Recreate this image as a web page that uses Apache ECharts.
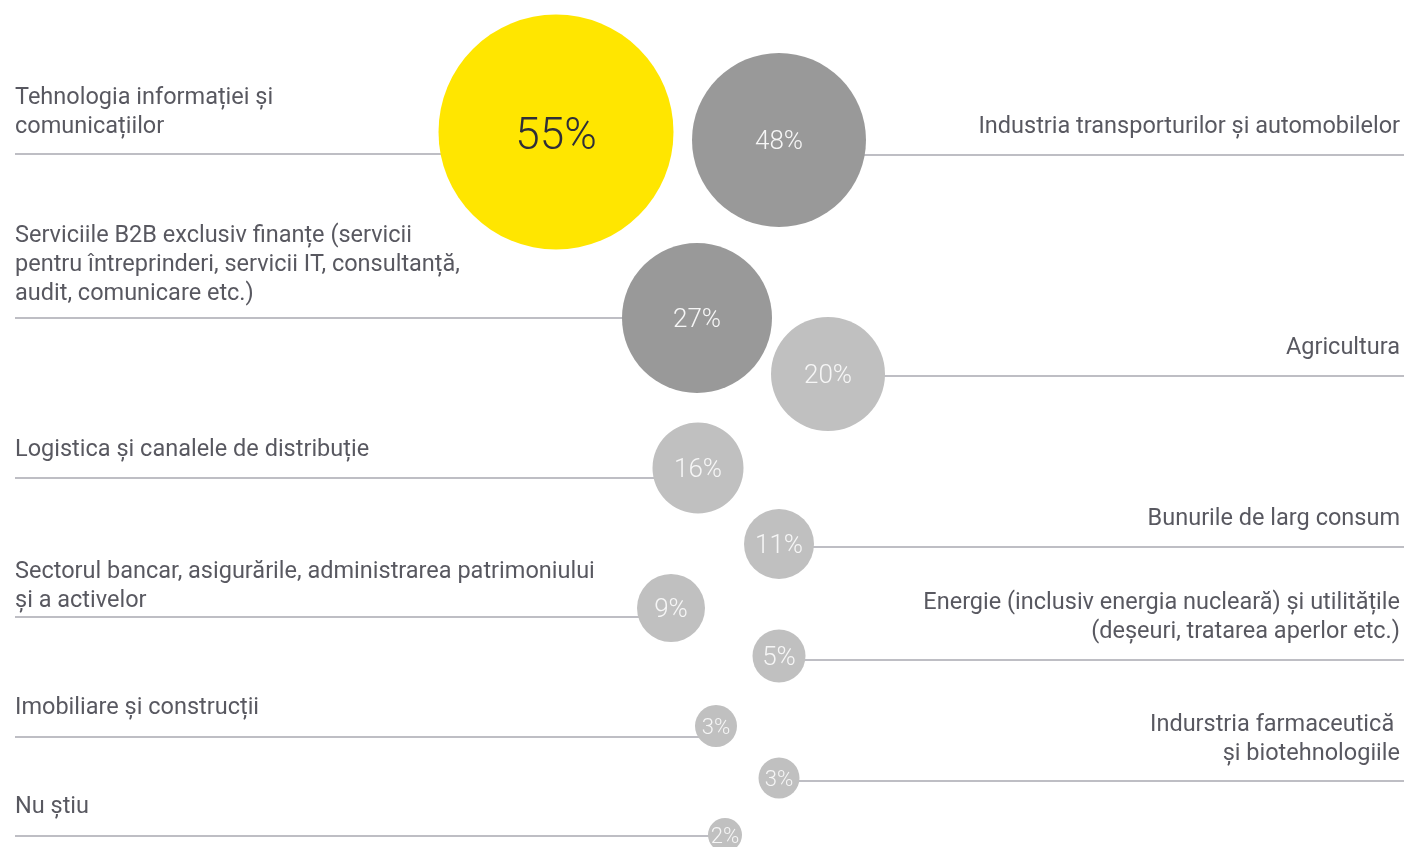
<!DOCTYPE html>
<html>
<head>
<meta charset="utf-8">
<script src="https://cdn.jsdelivr.net/npm/echarts@6/dist/echarts.min.js"></script>
<style>
  html, body { margin: 0; padding: 0; background: #ffffff; }
  #chart { width: 1404px; height: 847px; }
</style>
</head>
<body>
<div id="chart"></div>
<script>
// Sectors, top to bottom, with the share of respondents naming each one
const categories = [
  'Tehnologia informației și\ncomunicațiilor',
  'Industria transporturilor și automobilelor',
  'Serviciile B2B exclusiv finanțe (servicii\npentru întreprinderi, servicii IT, consultanță,\naudit, comunicare etc.)',
  'Agricultura',
  'Logistica și canalele de distribuție',
  'Bunurile de larg consum',
  'Sectorul bancar, asigurările, administrarea patrimoniului\nși a activelor',
  'Energie (inclusiv energia nucleară) și utilitățile\n(deșeuri, tratarea aperlor etc.)',
  'Imobiliare și construcții',
  'Indurstria farmaceutică \nși biotehnologiile',
  'Nu știu'
];
const shares = [55, 48, 27, 20, 16, 11, 9, 5, 3, 3, 2];
const sides = ['left', 'right', 'left', 'right', 'left', 'right', 'left', 'right', 'left', 'right', 'left'];

// Layout of the bubble column (axis units equal the canvas pixels)
const layout = {
  centerX:  [556, 779, 697, 828, 698, 779, 671, 779, 716, 779, 725],
  centerY:  [132, 140, 318, 374, 468, 544, 608, 656, 726, 778, 835],
  ruleY:    [154, 155, 318, 376, 478, 547, 617, 660, 737, 781, 836],
  diameter: [235, 174, 150, 114, 91, 70, 68, 53, 42, 41, 34],
  labelLift:[27, 28, 24, 28, 28, 28, 16, 28, 29, 27, 29],
  ruleStart: 15,
  ruleEnd: 1404,
  textLeft: 15,
  textRight: 1400
};

const TEXT = '#2e2e38';
const RULE = '#a9a9b1';
const FONT = 'Roboto';

function bubbleColor(v) {
  if (v >= 50) return '#ffe600';
  if (v >= 25) return '#999999';
  return '#c0c0c0';
}

const bubbles = shares.map((v, i) => ({
  value: [layout.centerX[i], layout.centerY[i], v],
  symbolSize: layout.diameter[i],
  itemStyle: { color: bubbleColor(v), opacity: 1 },
  label: v >= 50
    ? { color: '#2e2e38', fontSize: 44, offset: [0, 6] }
    : { color: '#f6f6f6', fontSize: v <= 3 ? 22 : 26, offset: [0, 2] }
}));

const rules = shares.map((v, i) => ({
  coords: sides[i] === 'left'
    ? [[layout.ruleStart, layout.ruleY[i]], [layout.centerX[i], layout.ruleY[i]]]
    : [[layout.centerX[i], layout.ruleY[i]], [layout.ruleEnd, layout.ruleY[i]]]
}));

const captions = categories.map((name, i) => ({
  name: name,
  value: [sides[i] === 'left' ? layout.textLeft : layout.textRight, layout.ruleY[i]],
  label: {
    align: sides[i],
    verticalAlign: 'bottom',
    position: [0, -(layout.labelLift[i] - 14.5)]
  }
}));

const chart = echarts.init(document.getElementById('chart'), null, { renderer: 'canvas' });
chart.setOption({
  animation: false,
  backgroundColor: '#ffffff',
  grid: { left: 0, right: 0, top: 0, bottom: 0 },
  xAxis: { type: 'value', min: 0, max: 1404, show: false },
  yAxis: { type: 'value', min: 0, max: 847, inverse: true, show: false },
  series: [
    {
      type: 'lines',
      coordinateSystem: 'cartesian2d',
      z: 1,
      silent: true,
      lineStyle: { color: RULE, width: 1.5, opacity: 1 },
      data: rules
    },
    {
      type: 'scatter',
      z: 3,
      symbol: 'circle',
      data: bubbles,
      label: {
        show: true,
        position: 'inside',
        fontFamily: FONT,
        fontWeight: 300,
        formatter: p => p.value[2] + '%'
      }
    },
    {
      type: 'scatter',
      z: 2,
      symbolSize: 0,
      silent: true,
      data: captions,
      label: {
        show: true,
        formatter: p => p.name,
        color: TEXT,
        fontFamily: FONT,
        fontSize: 23.5,
        lineHeight: 29
      }
    }
  ]
});
</script>
</body>
</html>
